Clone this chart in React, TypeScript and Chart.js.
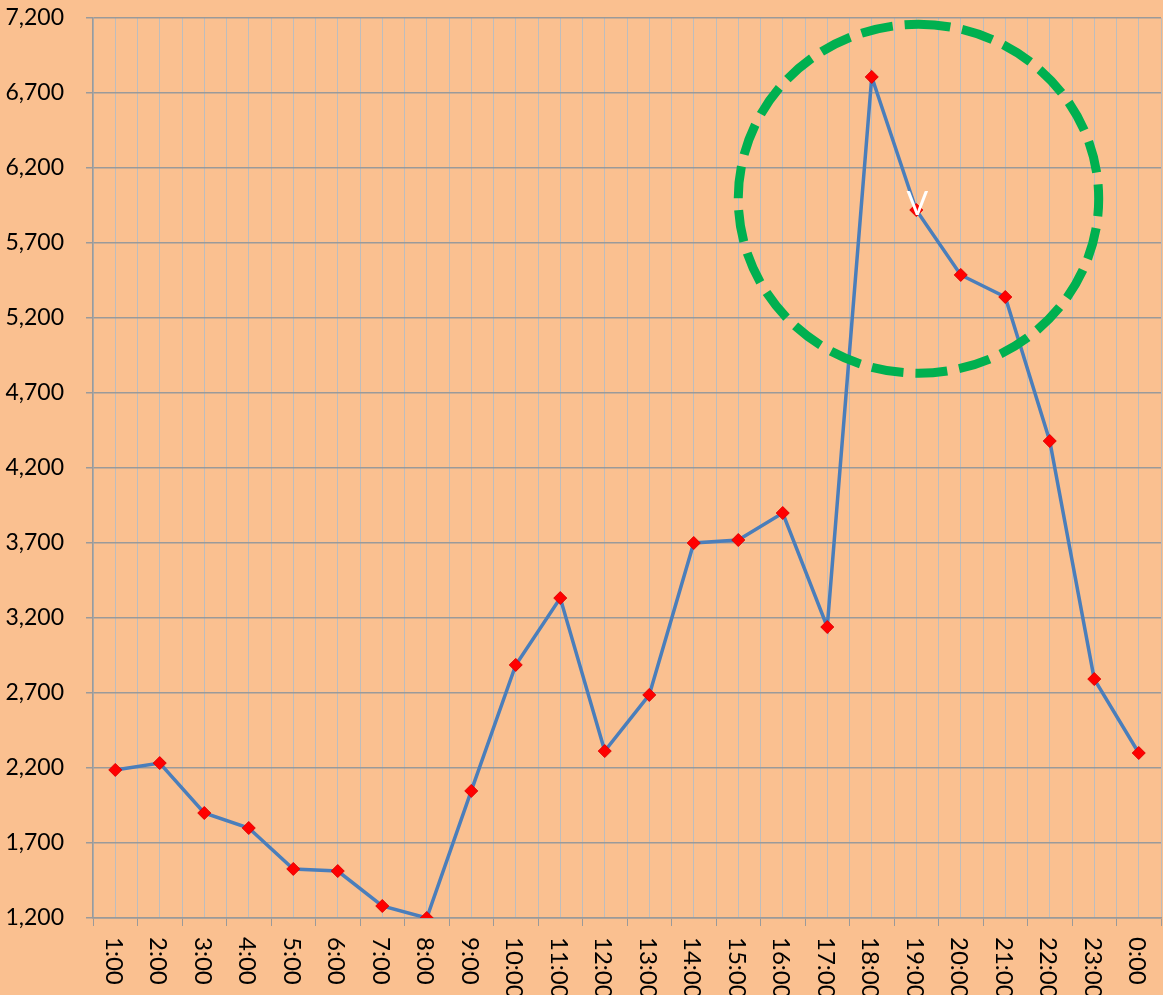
import React, { useEffect, useRef } from "react";
import { Chart, registerables } from "chart.js";

Chart.register(...registerables);

const hours = [
  "1:00", "2:00", "3:00", "4:00", "5:00", "6:00", "7:00", "8:00",
  "9:00", "10:00", "11:00", "12:00", "13:00", "14:00", "15:00", "16:00",
  "17:00", "18:00", "19:00", "20:00", "21:00", "22:00", "23:00", "0:00",
];
const values = [
  2187, 2233, 1900, 1800, 1527, 1513, 1280, 1200,
  2047, 2887, 3333, 2313, 2687, 3700, 3720, 3900,
  3140, 6807, 5920, 5487, 5340, 4380, 2793, 2300,
];
const yMin = 1200;
const yMax = 7200;
const yStep = 500;
// highlight ellipse in data units: center category position, center value, radii
const circleCenter = { x: 18.55, y: 5995 };
const circleRadius = { x: 4.05, y: 1163 };
const markLabel = "V";
const markIndex = 18;

const FONT = "Lato, 'Noto Sans', sans-serif";

export default function App() {
  const ref = useRef<HTMLCanvasElement | null>(null);
  useEffect(() => {
    if (!ref.current) return;
    const overlay = {
      id: "overlay",
      afterDraw(chart: any) {
        const { ctx, scales } = chart;
        const xs = scales.x;
        const ys = scales.y;
        // x labels rotated clockwise
        ctx.save();
        ctx.fillStyle = "#000";
        ctx.font = `24px ${FONT}`;
        ctx.textAlign = "left";
        ctx.textBaseline = "middle";
        hours.forEach((h, i) => {
          const px = xs.getPixelForValue(i + 0.5);
          ctx.save();
          ctx.translate(px - 2, ys.bottom + 19);
          ctx.rotate(Math.PI / 2);
          ctx.fillText(h, 0, 0);
          ctx.restore();
        });
        ctx.restore();
        // dashed ellipse
        const cx = xs.getPixelForValue(circleCenter.x);
        const cy = ys.getPixelForValue(circleCenter.y);
        const rx = xs.getPixelForValue(circleCenter.x + circleRadius.x) - cx;
        const ry = cy - ys.getPixelForValue(circleCenter.y + circleRadius.y);
        ctx.save();
        ctx.strokeStyle = "#00B050";
        ctx.lineWidth = 9;
        ctx.setLineDash([32, 12]);
        ctx.beginPath();
        ctx.ellipse(cx, cy, rx, ry, 0, -Math.PI / 2, Math.PI * 1.5);
        ctx.stroke();
        ctx.restore();
        // V label
        const vx = xs.getPixelForValue(markIndex + 0.5);
        const vy = ys.getPixelForValue(values[markIndex]);
        ctx.save();
        ctx.fillStyle = "#fff";
        ctx.font = `32px ${FONT}`;
        ctx.textAlign = "center";
        ctx.textBaseline = "alphabetic";
        ctx.fillText(markLabel, vx + 1, vy + 5);
        ctx.restore();
      },
    };
    const chart = new Chart(ref.current, {
      type: "line",
      data: {
        datasets: [
          {
            data: values.map((v, i) => ({ x: i + 0.5, y: v })),
            borderColor: "#4A7EBB",
            borderWidth: 3.5,
            tension: 0,
            pointStyle: "rectRot",
            pointRadius: 6.5,
            pointBackgroundColor: "#FF0000",
            pointBorderColor: "#E00000",
            pointBorderWidth: 1,
          },
        ],
      },
      options: {
        animation: false,
        responsive: false,
        maintainAspectRatio: false,
        layout: { autoPadding: false, padding: { top: 18, right: 2, left: 0, bottom: 0 } },
        plugins: { legend: { display: false }, tooltip: { enabled: false } },
        scales: {
          x: {
            type: "linear",
            min: 0,
            max: hours.length,
            afterFit: (s: any) => { s.height = 77; s.paddingLeft = 0; s.paddingRight = 0; },
            ticks: { display: false, stepSize: 0.5, autoSkip: false },
            grid: {
              color: "#BDBDBD",
              lineWidth: 1,
              tickLength: 8,
              tickColor: (c: any) =>
                c.tick && Math.abs(c.tick.value % 1) < 1e-6 ? "#9A9A9A" : "rgba(0,0,0,0)",
            },
            border: { color: "#9A9A9A", width: 1.5 },
          },
          y: {
            type: "linear",
            min: yMin,
            max: yMax,
            afterFit: (s: any) => { s.width = 93; s.paddingTop = 0; s.paddingBottom = 0; },
            ticks: {
              stepSize: yStep,
              padding: 22,
              color: "#000",
              font: { family: FONT, size: 23 },
              callback: (v: any) => Number(v).toLocaleString("en-US"),
            },
            grid: { color: "#9A9A9A", lineWidth: 1.5, tickLength: 7 },
            border: { color: "#9A9A9A", width: 1.5 },
          },
        },
      },
      plugins: [overlay],
    } as any);
    return () => chart.destroy();
  }, []);
  return (
    <div style={{ position: "fixed", left: 0, top: 0, width: 1163, height: 995, background: "#FAC090" }}>
      <canvas ref={ref} width={1163} height={995} style={{ display: "block" }} />
    </div>
  );
}
